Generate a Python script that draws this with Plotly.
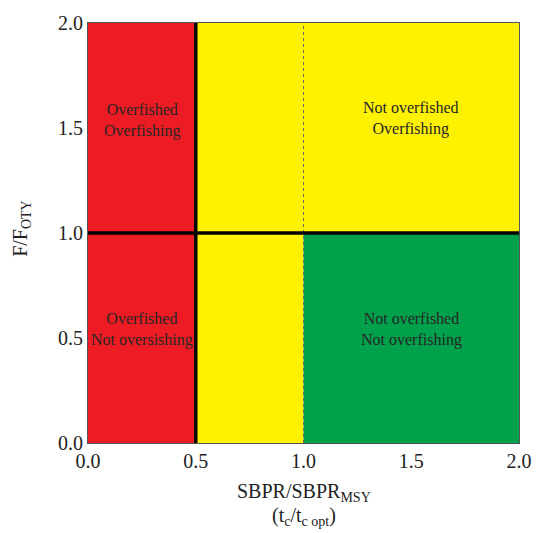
import plotly.graph_objects as go

# Reference points (thresholds)
sbpr_limit = 0.5      # overfished limit
sbpr_target = 1.0     # target (dotted)
f_limit = 1.0         # overfishing limit

# Zones: x0, x1, y0, y1, colour
zone_x0 = [0.0, 0.5, 0.5, 1.0]
zone_x1 = [0.5, 2.0, 1.0, 2.0]
zone_y0 = [0.0, 1.0, 0.0, 0.0]
zone_y1 = [2.0, 2.0, 1.0, 1.0]
zone_colors = ["#ED1C24", "#FFF200", "#FFF200", "#00A14B"]

# Zone labels
label_text = ["Overfished<br>Overfishing", "Not overfished<br>Overfishing",
              "Overfished<br>Not oversishing", "Not overfished<br>Not overfishing"]
label_x = [0.25, 1.5, 0.25, 1.5]
label_y = [1.537, 1.547, 0.54, 0.54]

tick_vals = [0.0, 0.5, 1.0, 1.5, 2.0]
tick_text = ["0.0", "0.5", "1.0", "1.5", "2.0"]

FONT = "Liberation Serif, Times New Roman, serif"

fig = go.Figure()
# invisible trace to establish axes
fig.add_trace(go.Scatter(x=[0, 2], y=[0, 2], mode="markers",
                         marker=dict(opacity=0), hoverinfo="skip", showlegend=False))

shapes = []
for x0, x1, y0, y1, c in zip(zone_x0, zone_x1, zone_y0, zone_y1, zone_colors):
    shapes.append(dict(type="rect", xref="x", yref="y", x0=x0, x1=x1, y0=y0, y1=y1,
                       fillcolor=c, line=dict(width=0), layer="below"))
# dotted target line
shapes.append(dict(type="line", xref="x", yref="y", x0=sbpr_target, x1=sbpr_target,
                   y0=0, y1=2, line=dict(color="#6b6b6b", width=1, dash="dot")))
# thick limit lines
shapes.append(dict(type="line", xref="x", yref="y", x0=sbpr_limit, x1=sbpr_limit,
                   y0=0, y1=2, line=dict(color="black", width=3.5)))
shapes.append(dict(type="line", xref="x", yref="y", x0=0, x1=2,
                   y0=f_limit, y1=f_limit, line=dict(color="black", width=3.5)))

annotations = []
for t, x, y in zip(label_text, label_x, label_y):
    annotations.append(dict(text=t, x=x, y=y, xref="x", yref="y", showarrow=False,
                            font=dict(family=FONT, size=16, color="#262626"),
                            align="center"))
# axis titles
annotations.append(dict(text="SBPR/SBPR<sub>MSY</sub>", x=0.5, y=-0.117, xref="paper",
                        yref="paper", showarrow=False, yanchor="middle",
                        font=dict(family=FONT, size=20, color="#222")))
annotations.append(dict(text="(t<sub>c</sub>/t<sub>c opt</sub>)", x=0.5, y=-0.174,
                        xref="paper", yref="paper", showarrow=False, yanchor="middle",
                        font=dict(family=FONT, size=20, color="#222")))
annotations.append(dict(text="F/F<sub>OTY</sub>", x=-0.153, y=0.51, xref="paper",
                        yref="paper", showarrow=False, textangle=-90,
                        xanchor="center", yanchor="middle",
                        font=dict(family=FONT, size=20, color="#222")))

fig.update_layout(
    width=546, height=533,
    margin=dict(l=88, r=27, t=17, b=90),
    paper_bgcolor="white", plot_bgcolor="white",
    shapes=shapes, annotations=annotations,
    showlegend=False,
    xaxis=dict(range=[0, 2], tickvals=tick_vals, ticktext=tick_text, showgrid=False,
               zeroline=False, showline=True, linecolor="#555", linewidth=1, mirror=True,
               ticks="", ticklen=0, tickfont=dict(family=FONT, size=20, color="#222")),
    yaxis=dict(range=[0, 2], tickvals=tick_vals, ticktext=tick_text, showgrid=False,
               zeroline=False, showline=True, linecolor="#555", linewidth=1, mirror=True,
               ticks="", ticklen=0, tickfont=dict(family=FONT, size=20, color="#222")),
)

fig.write_html("out.html", config={"displayModeBar": False},
               post_script="document.body.style.margin='0';document.body.style.overflow='hidden';")
